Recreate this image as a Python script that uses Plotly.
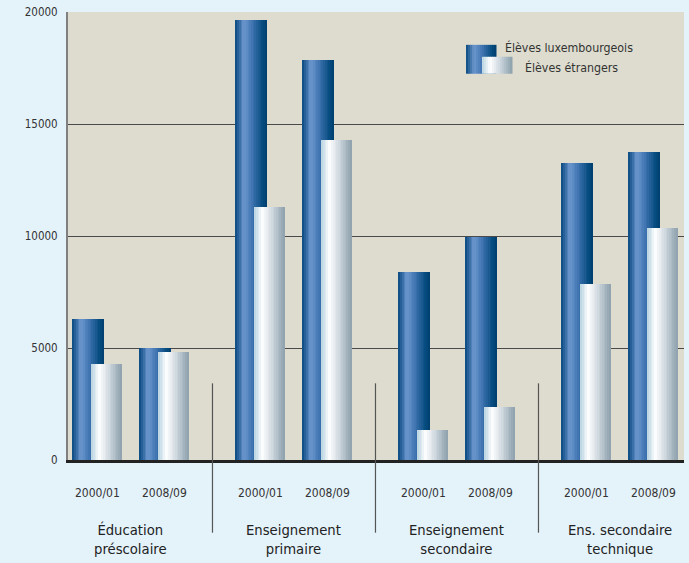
import plotly.graph_objects as go

# ---- data ----
groups = ["Éducation<br>préscolaire", "Enseignement<br>primaire",
          "Enseignement<br>secondaire", "Ens. secondaire<br>technique"]
years = ["2000/01", "2008/09"]
lux = [6300, 5000, 19640, 17870, 8400, 9960, 13240, 13740]
etr = [4270, 4840, 11290, 14270, 1330, 2350, 7870, 10360]
series_names = ["Élèves luxembourgeois", "Élèves étrangers"]
y_ticks = [0, 5000, 10000, 15000, 20000]

# ---- layout helpers ----
G = 163 / 67.0  # group spacing in year-spacing units
xpos = [gi * G + yi for gi in range(len(groups)) for yi in range(len(years))]
x_range = [-0.44, -0.44 + 616 / 67.0]

FONT = "DejaVu Sans Condensed, Liberation Sans Narrow, sans-serif"
TXT = "#333333"

blue_stops = [(0.0, (8, 72, 128)), (0.27, (108, 151, 206)), (0.55, (62, 115, 176)),
              (0.85, (8, 78, 130)), (1.0, (0, 62, 110))]
white_stops = [(0.0, (184, 212, 224)), (0.27, (255, 255, 255)), (0.6, (205, 215, 222)),
               (1.0, (140, 160, 172))]


def grad(stops, t):
    for (t0, c0), (t1, c1) in zip(stops[:-1], stops[1:]):
        if t0 <= t <= t1:
            f = (t - t0) / (t1 - t0) if t1 > t0 else 0
            c = [round(a + (b - a) * f) for a, b in zip(c0, c1)]
            return "rgb(%d,%d,%d)" % tuple(c)
    return "rgb(%d,%d,%d)" % stops[-1][1]


N = 18
fig = go.Figure()

bar_specs = [
    (lux, blue_stops, -24.5 / 67.0, 31 / 67.0, series_names[0]),
    (etr, white_stops, -5.5 / 67.0, 30 / 67.0, series_names[1]),
]
for vals, stops, off, w, name in bar_specs:
    sw = w / N
    for k in range(N):
        fig.add_trace(go.Bar(
            x=xpos, y=vals, offset=off + k * sw, width=sw * 1.08,
            marker=dict(color=grad(stops, (k + 0.5) / N), line=dict(width=0)),
            name=name, showlegend=False, hoverinfo="skip" if k else "y+name",
        ))

shapes = []
annotations = []

# year labels
for i, x in enumerate(xpos):
    annotations.append(dict(x=x, y=(460 - 493) / 450, xref="x", yref="paper", text=years[i % 2],
                            showarrow=False, yanchor="middle", xanchor="center",
                            font=dict(size=12, color=TXT, family=FONT)))
# group labels
for gi, g in enumerate(groups):
    annotations.append(dict(x=gi * G + 0.5, y=(460 - 539) / 450, xref="x", yref="paper", text=g,
                            showarrow=False, yanchor="middle", xanchor="center",
                            font=dict(size=14.7, color="#222222", family=FONT),
                            align="center"))
# separators
for gi in range(len(groups) - 1):
    xm = (gi * G + 1 + (gi + 1) * G) / 2
    shapes.append(dict(type="line", xref="x", yref="paper", x0=xm, x1=xm,
                       y0=(460 - 383) / 450, y1=(460 - 533) / 450,
                       line=dict(color="#555555", width=1.2)))


# legend swatches (paper coordinates)
def px2x(p):
    return (p - 68) / 616.0


def py2y(p):
    return (460 - p) / 450.0


M = 15
for (x0, x1, y0, y1, stops) in [(466, 496, 43, 72, blue_stops), (482, 512, 55, 72, white_stops)]:
    sw = (x1 - x0) / M
    for k in range(M):
        shapes.append(dict(type="rect", xref="paper", yref="paper",
                           x0=px2x(x0 + k * sw), x1=px2x(x0 + (k + 1) * sw + 0.5),
                           y0=py2y(y1), y1=py2y(y0), line=dict(width=0),
                           fillcolor=grad(stops, (k + 0.5) / M), layer="above"))
annotations.append(dict(x=px2x(503), y=py2y(46), xref="paper", yref="paper",
                        text=series_names[0], showarrow=False, xanchor="left", yanchor="middle",
                        font=dict(size=12.3, color=TXT, family=FONT)))
annotations.append(dict(x=px2x(523), y=py2y(66), xref="paper", yref="paper",
                        text=series_names[1], showarrow=False, xanchor="left", yanchor="middle",
                        font=dict(size=12.3, color=TXT, family=FONT)))

fig.update_layout(
    width=689, height=563,
    margin=dict(l=68, r=5, t=10, b=103),
    paper_bgcolor="#e4f2fa", plot_bgcolor="#dddcce",
    barmode="overlay", bargap=0,
    showlegend=False,
    shapes=shapes, annotations=annotations,
    xaxis=dict(range=x_range, showticklabels=False, showgrid=False, zeroline=False,
               showline=True, linecolor="#222222", linewidth=3, ticks=""),
    yaxis=dict(range=[0, 20000], tickvals=y_ticks, ticktext=[str(v) for v in y_ticks],
               showgrid=True, gridcolor="#4a4a4a", gridwidth=1.3, zeroline=False,
               showline=True, linecolor="#808080", linewidth=2,
               ticks="outside", ticklen=6, tickcolor="rgba(0,0,0,0)",
               tickfont=dict(size=11.5, color=TXT, family=FONT)),
)

fig.write_html("out.html", config={"displayModeBar": False},
               post_script="document.body.style.margin='0';document.body.style.overflow='hidden';")
